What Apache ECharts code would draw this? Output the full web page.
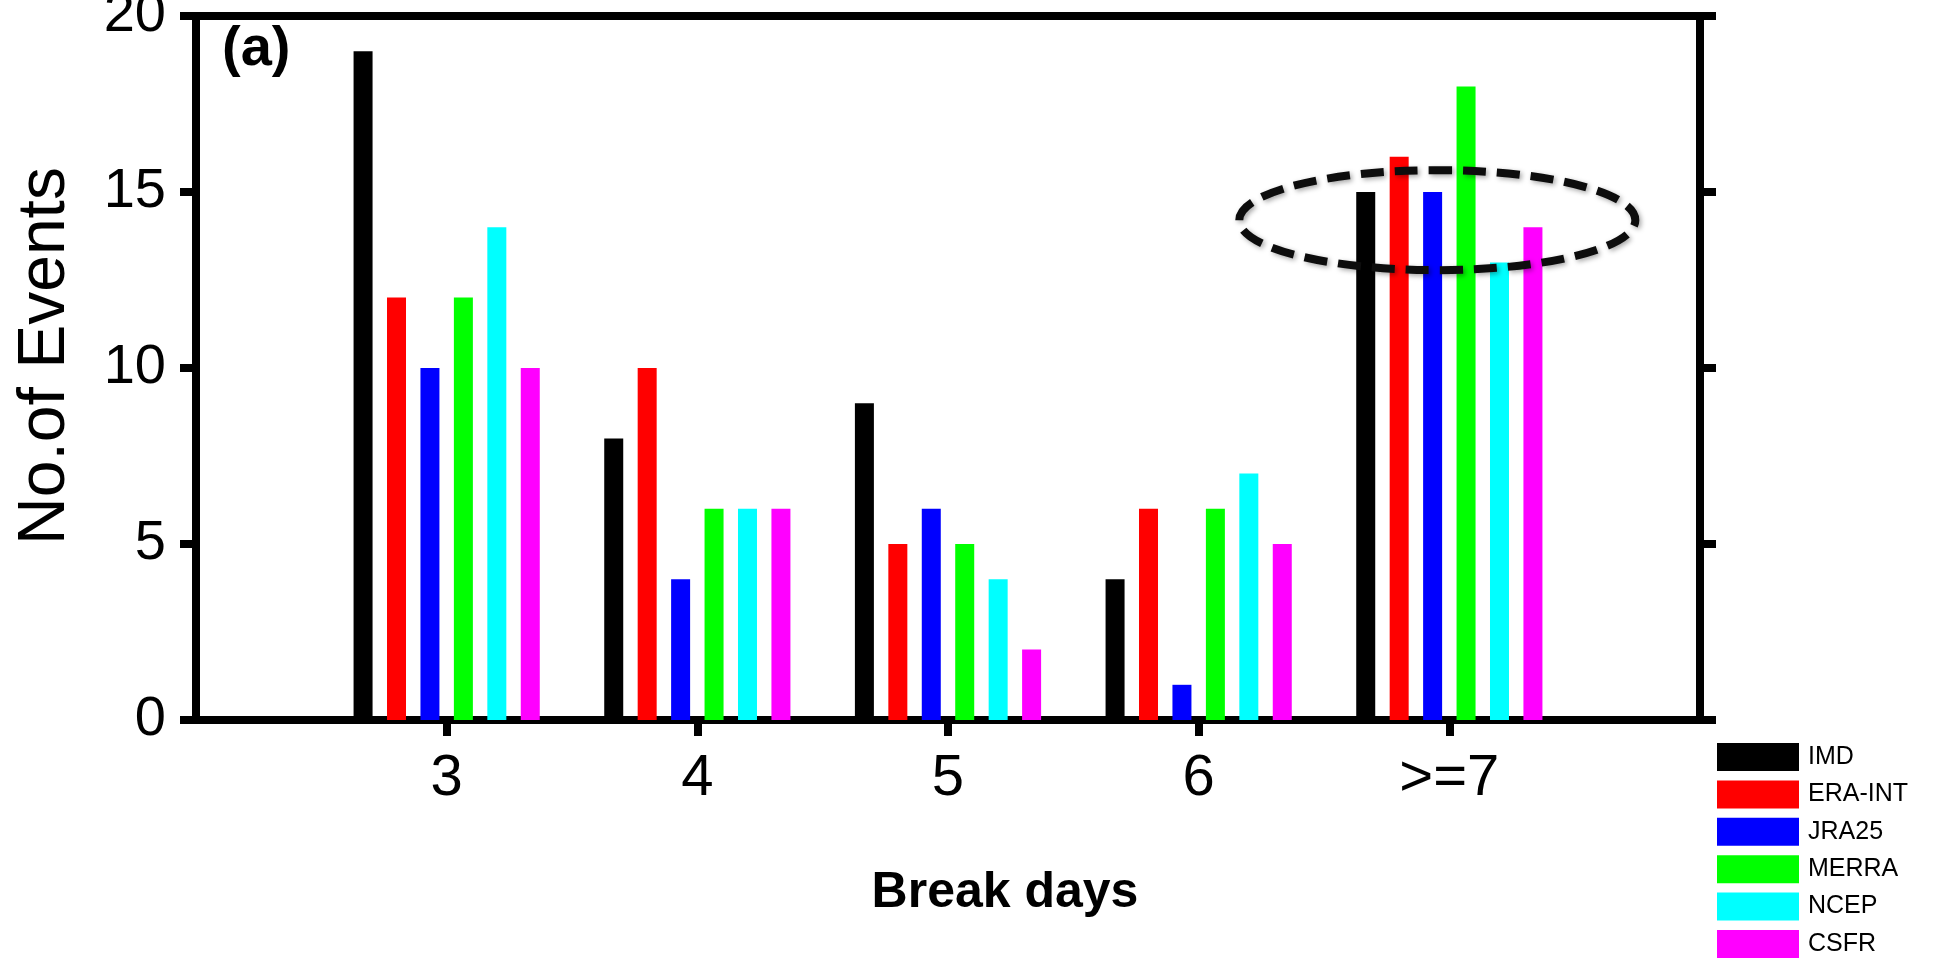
<!DOCTYPE html>
<html>
<head>
<meta charset="utf-8">
<script src="https://cdn.jsdelivr.net/npm/echarts@6/dist/echarts.min.js"></script>
<style>
  html, body { margin: 0; padding: 0; background: #fff; }
  #chart { width: 1933px; height: 958px; }
</style>
</head>
<body>
<div id="chart"></div>
<script>
// ---- data ----
const categories = ['3', '4', '5', '6', '>=7'];
const seriesNames = ['IMD', 'ERA-INT', 'JRA25', 'MERRA', 'NCEP', 'CSFR'];
const IMD    = [19, 8, 9, 4, 15];
const ERAINT = [12, 10, 5, 6, 16];
const JRA25  = [10, 4, 6, 1, 15];
const MERRA  = [12, 6, 5, 6, 18];
const NCEP   = [14, 6, 4, 7, 13];
const CSFR   = [10, 6, 2, 5, 14];
const yTicks = [0, 5, 10, 15, 20];
const colors = ['#000000', '#ff0000', '#0000ff', '#00ff00', '#00ffff', '#ff00ff'];

// padded category axis so that the groups sit at 1..5 of a 0..6 axis
const axisCats = [''].concat(categories, ['']);
const pad = arr => ['-'].concat(arr, ['-']);
const allSeries = [IMD, ERAINT, JRA25, MERRA, NCEP, CSFR];

const FONT = 'Liberation Sans, Arial, Helvetica, sans-serif';
const showReal = (idx) => idx > 0 && idx < axisCats.length - 1;

const chart = echarts.init(document.getElementById('chart'), null, { renderer: 'canvas' });

const option = {
  animation: false,
  backgroundColor: '#ffffff',
  grid: { left: 196, right: 233, top: 16, bottom: 238, containLabel: false, outerBoundsMode: 'none' },
  legend: {
    orient: 'vertical',
    left: 1717,
    top: 743,
    height: 260,
    padding: 0,
    itemWidth: 82,
    itemHeight: 28,
    itemGap: 9.4,
    icon: 'rect',
    data: seriesNames,
    textStyle: { fontFamily: FONT, fontSize: 25, lineHeight: 28, color: '#000', padding: [0, 0, 0, 4] },
    itemStyle: { borderWidth: 0 }
  },
  xAxis: [
    {
      type: 'category',
      data: axisCats,
      boundaryGap: false,
      position: 'bottom',
      axisLine: { onZero: false, lineStyle: { color: '#000', width: 8 } },
      axisTick: { show: true, inside: false, length: 16, lineStyle: { color: '#000', width: 8 }, interval: (i) => showReal(i) },
      axisLabel: { interval: (i) => showReal(i), fontFamily: FONT, fontSize: 58, color: '#000', margin: 30 },
      splitLine: { show: false },
      name: 'Break days',
      nameLocation: 'middle',
      nameGap: 148,
      nameTextStyle: { fontFamily: FONT, fontSize: 50, fontWeight: 'bold', color: '#000', padding: [0, 0, 0, 114] }
    },
    {
      type: 'category',
      data: axisCats,
      boundaryGap: false,
      position: 'top',
      axisLine: { onZero: false, lineStyle: { color: '#000', width: 8 } },
      axisTick: { show: false },
      axisLabel: { show: false },
      splitLine: { show: false }
    }
  ],
  yAxis: [
    {
      type: 'value',
      min: yTicks[0],
      max: yTicks[yTicks.length - 1],
      interval: 5,
      position: 'left',
      axisLine: { show: true, onZero: false, lineStyle: { color: '#000', width: 8 } },
      axisTick: { show: true, inside: false, length: 16, lineStyle: { color: '#000', width: 8 } },
      axisLabel: { fontFamily: FONT, fontSize: 56, color: '#000', margin: 30 },
      splitLine: { show: false },
      name: 'No.of Events',
      nameLocation: 'middle',
      nameGap: 117,
      nameTextStyle: { fontFamily: FONT, fontSize: 66, color: '#000', padding: [0, 0, 0, 24] }
    },
    {
      type: 'value',
      min: yTicks[0],
      max: yTicks[yTicks.length - 1],
      interval: 5,
      position: 'right',
      axisLine: { show: true, onZero: false, lineStyle: { color: '#000', width: 8 } },
      axisTick: { show: true, inside: false, length: 16, lineStyle: { color: '#000', width: 8 } },
      axisLabel: { show: false },
      splitLine: { show: false }
    }
  ],
  series: seriesNames.map((name, i) => ({
    name: name,
    type: 'bar',
    xAxisIndex: 0,
    yAxisIndex: 0,
    data: pad(allSeries[i]),
    barWidth: 19,
    barGap: '76%',
    itemStyle: { color: colors[i] },
    z: 2
  }))
};

chart.setOption(option);

// ---- annotations: "(a)" and the dashed ellipse around the >=7 group ----
function addAnnotations() {
  const cat7 = categories[categories.length - 1];
  const cat6 = categories[categories.length - 2];
  const c = chart.convertToPixel({ xAxisIndex: 0, yAxisIndex: 0 }, [cat7, 14.2]);
  const p6 = chart.convertToPixel({ xAxisIndex: 0, yAxisIndex: 0 }, [cat6, 14.2]);
  const top = chart.convertToPixel({ xAxisIndex: 0, yAxisIndex: 0 }, [cat7, 15.62]);
  const band = c[0] - p6[0];
  const cx = c[0] - 0.048 * band;
  const rx = 0.79 * band;
  const ry = c[1] - top[1];
  chart.setOption({
    graphic: [
      {
        type: 'text',
        left: 222,
        top: 22,
        z: 10,
        style: { text: '(a)', font: 'bold 56px ' + FONT, fill: '#000' }
      },
      {
        type: 'ellipse',
        z: 20,
        shape: { cx: cx, cy: c[1], rx: rx, ry: ry },
        style: {
          fill: 'none',
          stroke: '#0d0d0d',
          lineWidth: 8,
          lineDash: [23, 11],
          shadowBlur: 5,
          shadowColor: 'rgba(0,0,0,0.35)',
          shadowOffsetX: 2,
          shadowOffsetY: 2
        }
      }
    ]
  });
}
addAnnotations();
</script>
</body>
</html>
